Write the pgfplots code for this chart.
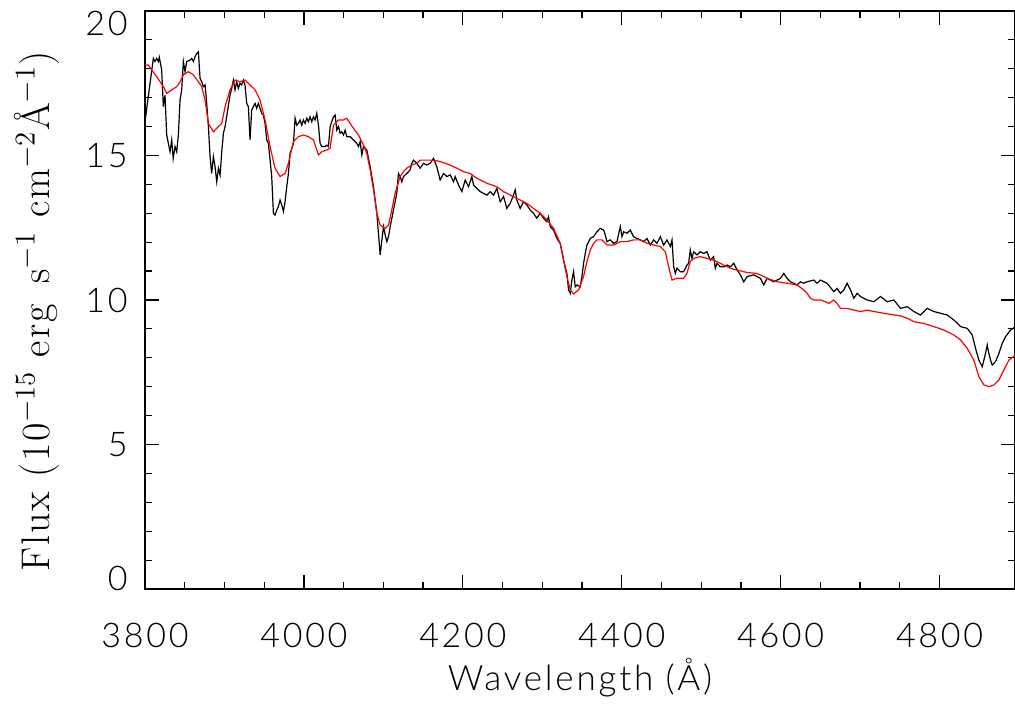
\documentclass[border=0pt]{standalone}
\usepackage{fontspec}
\usepackage{pgfplots}
\pgfplotsset{compat=1.18}
\newfontfamily\lightfont{Lato Light}[LetterSpace=8]
\newfontfamily\serifls{Latin Modern Roman}[LetterSpace=5]
\begin{document}
\begin{tikzpicture}
\begin{axis}[
  scale only axis, width=435pt, height=289pt,
  xmin=3800, xmax=4895, ymin=0, ymax=20,
  xtick={3800,4000,...,4800}, minor x tick num=3,
  ytick={0,5,...,20}, minor y tick num=4,
  yticklabel={\ifcase\ticknum\raisebox{-0.6pt}[0pt][0pt]{0}\or\raisebox{-6.1pt}[0pt][0pt]{5}\or\raisebox{-6.1pt}[0pt][0pt]{10}\or\raisebox{-6.1pt}[0pt][0pt]{15}\or\raisebox{-12.4pt}[0pt][0pt]{20}\fi},
  tick align=inside, xtick pos=both, ytick pos=both,
  major tick length=7pt, minor tick length=3.5pt,
  axis line style={line width=0.8pt},
  every tick/.style={black, line width=0.6pt},
  /pgf/number format/assume math mode=true,
  /pgf/number format/1000 sep={},
  ticklabel style={font=\lightfont\fontsize{17}{20}\selectfont, inner sep=0pt},
  xticklabel style={yshift=-17pt},
  yticklabel style={xshift=-8.5pt},
  xlabel={Wavelength (Å)},
  xlabel style={font=\lightfont\fontsize{17.5}{20}\selectfont, inner sep=0pt, at={(axis description cs:0.5,0)}, anchor=north, yshift=-34.5pt},
  ylabel={Flux (10$^{-15}$ erg\, s$^{-1}$ cm$^{-2}$Å$^{-1}$)},
  ylabel style={font=\serifls\fontsize{20}{24}\selectfont, inner sep=0pt, at={(axis description cs:-0.0977,0.48)}, anchor=south},
]
\addplot[black, line width=0.6pt] coordinates {
(3800.0,16.17)(3810.5,18.36)(3812.6,18.25)(3814.7,18.36)(3816.8,18.25)(3818.0,18.40)
(3821.0,17.96)(3823.1,16.69)(3825.2,17.09)(3827.3,15.71)(3831.5,15.13)(3833.6,15.54)
(3835.5,14.90)(3837.8,15.31)(3839.9,15.13)(3842.0,15.71)(3844.1,16.92)(3846.2,17.27)
(3848.3,18.25)(3850.4,17.90)(3852.5,18.25)(3856.7,18.30)(3858.8,18.36)(3860.9,18.25)
(3863.0,18.42)(3865.1,18.53)(3867.2,18.59)(3869.3,17.67)(3871.4,17.55)(3873.5,17.38)
(3875.6,17.44)(3877.7,16.80)(3879.8,16.00)(3881.9,14.96)(3883.9,14.38)(3886.1,14.96)
(3888.2,14.61)(3890.3,14.09)(3892.4,14.56)(3894.5,14.32)(3896.6,15.13)(3898.7,15.77)
(3900.8,16.00)(3902.8,16.34)(3907.0,17.09)(3909.1,17.32)(3911.2,17.61)(3913.3,17.27)
(3915.4,17.55)(3917.5,17.32)(3919.6,17.50)(3921.7,17.44)(3923.8,17.61)(3925.9,17.44)
(3928.0,16.80)(3930.1,16.69)(3932.2,15.54)(3934.3,16.57)(3936.4,16.69)(3938.5,16.80)
(3940.6,16.63)(3942.7,16.80)(3944.8,16.63)(3946.9,16.46)(3949.0,16.40)(3951.1,16.11)
(3953.2,15.54)(3955.3,15.42)(3957.4,14.84)(3959.5,14.27)(3961.6,13.00)(3963.7,12.94)
(3965.8,13.11)(3967.9,13.23)(3970.0,13.46)(3972.1,13.29)(3974.2,13.06)(3976.3,13.40)
(3978.4,13.92)(3980.5,14.38)(3982.6,15.07)(3986.8,15.42)(3988.9,16.29)(3991.0,16.05)
(3993.1,16.11)(3995.2,16.23)(3997.3,16.05)(3999.4,16.23)(4001.5,16.11)(4003.6,16.29)
(4005.7,16.17)(4007.8,16.34)(4009.9,16.17)(4012.0,16.34)(4014.1,16.23)(4016.2,16.46)
(4018.3,16.05)(4020.4,15.42)(4022.5,15.31)(4026.7,15.31)(4028.8,15.36)(4030.9,15.31)
(4033.0,16.00)(4035.1,16.17)(4037.2,16.34)(4039.3,16.40)(4041.4,15.88)(4043.5,16.00)
(4045.6,15.77)(4047.7,15.82)(4049.8,15.71)(4051.9,15.88)(4054.0,15.65)(4058.2,15.65)
(4062.4,15.54)(4066.6,15.42)(4068.7,15.31)(4070.8,15.48)(4072.9,15.02)(4075.0,15.31)
(4079.2,15.19)(4083.4,14.61)(4087.6,13.92)(4091.8,13.00)(4096.0,11.56)(4098.1,12.08)
(4100.2,12.54)(4102.3,12.25)(4104.4,12.02)(4106.5,12.19)(4108.6,12.54)(4112.7,13.11)
(4116.9,13.69)(4119.0,14.38)(4121.1,14.27)(4123.2,14.09)(4125.3,14.27)(4129.5,14.38)
(4133.7,14.50)(4135.8,14.73)(4137.9,14.84)(4142.1,14.73)
(4146.3,14.56)(4150.5,14.73)(4154.7,14.67)(4158.9,14.73)(4163.1,14.90)(4167.3,14.61)
(4171.5,14.15)(4175.7,14.38)(4179.9,14.27)(4184.1,14.33)(4188.3,14.09)(4190.4,14.27)
(4194.6,13.98)(4198.8,13.75)(4203.0,14.15)(4207.2,13.92)(4211.4,14.27)(4213.5,13.98)
(4217.7,13.86)(4221.9,13.75)(4226.1,13.69)(4230.3,13.63)(4234.5,13.75)(4238.7,13.63)
(4242.9,13.86)(4247.1,13.40)(4251.3,13.58)(4255.4,13.17)(4259.6,13.34)(4263.8,13.63)
(4265.9,13.81)(4268.0,13.46)(4272.2,13.17)(4276.4,13.40)(4280.6,13.29)(4284.8,13.11)
(4289.0,13.00)(4293.2,12.83)(4297.4,13.00)(4301.6,12.83)(4305.8,12.71)(4307.9,12.88)
(4310.0,12.54)(4314.2,12.42)(4318.4,12.13)(4322.6,11.96)(4326.8,11.38)(4331.0,10.92)
(4333.1,10.35)(4335.2,10.23)(4337.3,10.69)(4339.4,10.98)(4341.5,10.46)(4343.6,10.52)
(4347.8,10.46)(4349.9,10.81)(4352.0,11.27)(4354.1,11.61)(4356.2,11.90)(4360.4,12.13)
(4364.6,12.19)(4368.8,12.36)(4373.0,12.48)(4377.2,12.42)(4379.3,12.25)(4381.4,12.02)
(4385.6,12.08)(4389.8,11.96)(4394.0,12.02)(4398.2,12.54)(4400.3,12.19)(4402.4,12.36)
(4406.6,12.31)(4410.8,12.42)(4415.0,12.19)(4419.2,12.13)(4423.4,12.08)(4427.6,12.02)
(4431.8,12.13)(4436.0,11.90)(4440.2,12.08)(4444.4,11.96)(4448.6,12.19)(4452.8,11.90)
(4457.0,12.08)(4461.2,11.85)(4463.3,12.08)(4465.4,11.15)(4467.5,10.92)(4469.5,11.10)
(4473.7,10.98)(4477.9,10.98)(4482.1,11.21)(4484.2,11.27)(4486.3,11.73)(4488.4,11.44)
(4490.5,11.67)(4494.7,11.56)(4498.9,11.67)(4503.1,11.61)(4507.3,11.67)(4511.5,11.38)
(4515.7,11.50)(4517.8,11.10)(4519.9,11.27)(4524.1,11.15)
(4528.4,11.15)(4532.6,11.21)(4536.8,11.15)(4541.0,11.27)(4545.2,11.04)(4549.4,10.87)
(4553.6,10.63)(4557.8,10.81)(4566.2,10.87)(4574.6,10.75)(4578.8,10.52)(4583.0,10.75)
(4591.4,10.63)(4599.8,10.75)(4604.0,10.92)(4608.1,10.75)(4612.3,10.63)(4616.5,10.58)
(4620.7,10.52)(4624.9,10.63)(4629.1,10.58)(4633.3,10.63)(4641.7,10.69)(4645.9,10.58)
(4650.1,10.69)(4658.5,10.58)(4666.9,10.29)(4671.1,10.40)(4675.3,10.23)(4679.5,10.35)
(4683.7,10.58)(4687.9,10.35)(4692.1,10.06)(4696.3,10.23)(4700.5,10.12)(4708.9,10.00)
(4717.3,9.94)(4725.7,10.12)(4734.1,9.94)(4742.5,10.00)(4750.9,9.71)(4759.3,9.77)
(4767.7,9.60)(4776.1,9.48)(4784.5,9.71)(4792.9,9.60)(4801.3,9.54)(4809.7,9.48)
(4818.0,9.31)(4826.4,9.08)(4834.8,9.02)(4841.1,8.79)(4845.3,8.33)(4849.5,7.92)
(4853.7,7.69)(4857.9,8.15)(4860.0,8.44)(4862.1,8.15)(4864.2,7.92)(4866.3,7.75)
(4870.5,7.87)(4874.7,8.15)(4878.9,8.50)(4883.1,8.73)(4889.4,8.96)(4895.7,9.08)
};
\addplot[red, line width=0.6pt] coordinates {
(3800.0,18.13)(3804.2,18.13)(3808.4,17.96)(3814.7,17.73)(3823.1,17.38)(3827.3,17.15)
(3833.6,17.27)(3839.9,17.38)(3844.1,17.55)(3848.3,17.79)(3854.6,17.90)(3860.9,17.79)
(3867.2,17.55)(3871.4,17.38)(3875.6,16.92)(3879.8,16.11)(3886.1,15.82)(3892.4,16.00)
(3896.6,16.11)(3900.8,16.69)(3907.0,17.27)(3913.3,17.61)(3919.6,17.55)(3925.9,17.61)
(3932.2,17.44)(3938.5,17.27)(3944.8,16.92)(3951.1,16.23)(3957.4,15.31)(3963.7,14.56)
(3970.0,14.27)(3976.3,14.38)(3980.5,14.73)(3986.8,15.48)(3993.1,15.65)(3999.4,15.71)
(4005.7,15.65)(4012.0,15.54)(4018.3,15.02)(4022.5,15.13)(4028.8,15.19)(4033.0,15.25)
(4037.2,16.05)(4043.5,16.23)(4049.8,16.23)(4054.0,16.29)(4058.2,16.11)(4062.4,15.94)
(4068.7,15.71)(4075.0,15.36)(4079.2,15.07)(4083.4,14.50)(4087.6,13.81)(4091.8,13.00)
(4096.0,12.59)(4102.3,12.48)(4106.5,12.59)(4110.6,13.11)(4114.8,13.69)(4121.1,14.27)
(4125.3,14.44)(4129.5,14.56)(4135.8,14.67)(4142.1,14.73)
(4146.3,14.84)(4163.1,14.84)(4171.5,14.79)(4184.1,14.67)(4192.5,14.56)(4200.9,14.44)
(4209.3,14.38)(4217.7,14.21)(4230.3,14.04)(4242.9,13.92)(4251.3,13.75)(4259.6,13.63)
(4272.2,13.46)(4280.6,13.34)(4289.0,13.17)(4297.4,13.00)(4305.8,12.77)(4314.2,12.48)
(4322.6,11.96)(4326.8,11.38)(4331.0,10.81)(4335.2,10.35)(4339.4,10.21)(4345.7,10.35)
(4352.0,10.81)(4356.2,11.33)(4360.4,11.73)(4364.6,11.96)(4368.8,12.08)(4375.1,12.08)
(4381.4,11.90)(4389.8,11.90)(4398.2,12.02)(4406.6,12.02)(4415.0,12.08)(4423.4,12.08)
(4431.8,11.96)(4440.2,11.90)(4448.6,11.85)(4454.9,11.67)(4459.1,11.15)(4463.3,10.69)
(4469.5,10.75)(4477.9,10.75)(4482.1,10.92)(4486.3,11.33)(4490.5,11.44)(4498.9,11.50)
(4507.3,11.44)(4515.7,11.38)(4524.1,11.27)
(4532.6,11.15)(4541.0,11.06)(4549.4,11.01)(4557.8,10.95)(4570.4,10.92)(4583.0,10.75)
(4595.6,10.63)(4608.1,10.58)(4620.7,10.52)(4629.1,10.35)(4633.3,10.23)(4637.5,10.06)
(4641.7,10.00)(4650.1,10.00)(4656.4,9.94)(4660.6,9.88)(4666.9,10.00)(4671.1,9.88)
(4675.3,9.71)(4683.7,9.71)(4692.1,9.65)(4700.5,9.60)(4708.9,9.65)(4717.3,9.60)
(4725.7,9.56)(4734.1,9.52)(4750.9,9.45)(4759.3,9.37)(4767.7,9.25)(4780.3,9.19)
(4792.9,9.08)(4805.5,8.96)(4818.0,8.79)(4826.4,8.62)(4834.8,8.33)(4843.2,7.92)
(4849.5,7.35)(4855.8,7.06)(4862.1,7.00)(4868.4,7.06)(4874.7,7.23)(4881.0,7.58)
(4887.3,7.92)(4895.7,8.10)
};
\end{axis}
\pgfresetboundingbox
\useasboundingbox ([xshift=-72.5pt,yshift=-61pt]current axis.south west) rectangle ([yshift=5.5pt]current axis.north east);
\end{tikzpicture}
\end{document}
